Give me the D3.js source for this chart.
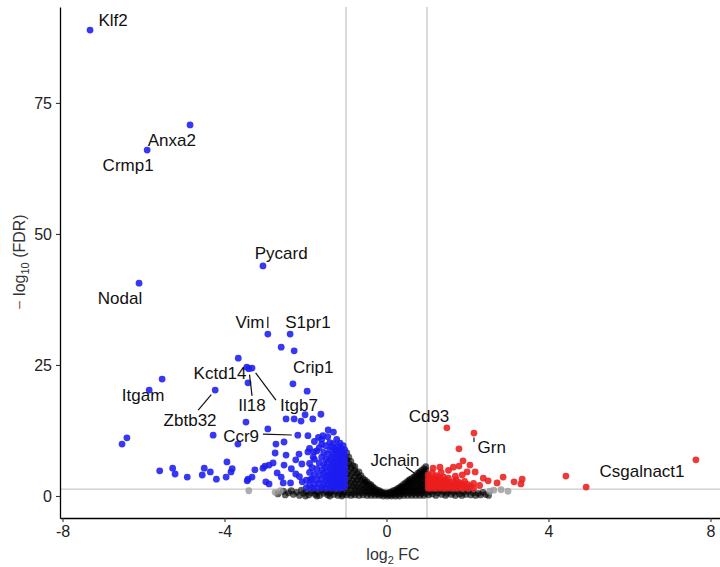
<!DOCTYPE html>
<html>
<head>
<meta charset="utf-8">
<script src="https://cdn.jsdelivr.net/npm/d3@7"></script>
<style>
  body { margin: 0; background: #fff; }
  svg { display: block; font-family: "Liberation Sans", Arial, sans-serif; }
</style>
</head>
<body>
<svg id="volcano" width="720" height="567"></svg>
<script>
// tick values
const xTicks = [-8, -4, 0, 4, 8];
const yTicks = [0, 25, 50, 75];

// thresholds
const fcCut = 1;
const fdrCut = 1.3;

// not significant points, by column: [log2FC, [-log10 FDR ...]]
const nsCols = [
  [-2.68, [0.4]], [-2.55, [0.9]], [-2.5, [0.2]], [-2.42, [0.6]], [-2.35, [1.0]],
  [-2.3, [0.3]], [-2.22, [0.7]], [-2.15, [0.1]], [-2.1, [1.1]], [-2.05, [0.5]],
  [-2.0, [0.0]], [-1.98, [0.8]], [-1.92, [0.2]], [-1.86, [0.6]], [-1.8, [1.0]],
  [-1.76, [0.3]], [-1.72, [0.0]], [-1.7, [0.7]], [-1.65, [0.1]], [-1.6, [1.1]],
  [-1.55, [0.5]], [-1.5, [0.8]], [-1.45, [0.2]], [-1.4, [0.0, 0.6]], [-1.35, [1.0]],
  [-1.3, [0.3]], [-1.26, [0.8]], [-1.2, [0.1]], [-1.16, [0.5]], [-1.12, [1.1]],
  [-1.1, [0.0]], [-1.08, [0.3]], [-1.04, [0.7]],
  [-0.98, [0.2, 1.5, 2.8, 4.2, 5.6, 7.0, 8.2]],
  [-0.93, [0.6, 2.0, 3.4, 4.8, 6.2, 7.4]],
  [-0.88, [0.1, 1.2, 2.5, 3.9, 5.3, 6.6]],
  [-0.83, [0.5, 1.8, 3.0, 4.4, 5.8]],
  [-0.78, [0.2, 1.3, 2.4, 3.6, 4.9, 5.6]],
  [-0.73, [0.7, 1.8, 3.0, 4.3]],
  [-0.68, [0.1, 1.2, 2.4, 3.6, 4.6]],
  [-0.63, [0.6, 1.7, 2.9, 3.9]],
  [-0.58, [0.2, 1.2, 2.2, 3.3]],
  [-0.53, [0.7, 1.6, 2.6, 3.0]],
  [-0.48, [0.1, 1.0, 2.0, 2.7]],
  [-0.43, [0.5, 1.4, 2.3]],
  [-0.38, [0.1, 0.9, 1.8, 2.1]],
  [-0.33, [0.5, 1.3, 1.7]],
  [-0.28, [0.1, 0.8, 1.4]],
  [-0.23, [0.4, 1.1]],
  [-0.18, [0.1, 0.7, 1.0]],
  [-0.13, [0.3, 0.8]],
  [-0.08, [0.0, 0.6]],
  [-0.03, [0.3, 0.6]],
  [0.02, [0.0, 0.5]],
  [0.07, [0.2, 0.7]],
  [0.12, [0.0, 0.5, 0.8]],
  [0.17, [0.3, 1.0]],
  [0.22, [0.0, 0.6, 1.1]],
  [0.27, [0.3, 0.9, 1.4]],
  [0.32, [0.0, 0.7, 1.3, 1.6]],
  [0.37, [0.4, 1.0, 1.7, 1.9]],
  [0.42, [0.1, 0.8, 1.5, 2.2]],
  [0.47, [0.5, 1.2, 1.9, 2.5]],
  [0.52, [0.1, 0.9, 1.6, 2.3, 2.8]],
  [0.57, [0.5, 1.3, 2.1, 2.9, 3.1]],
  [0.62, [0.1, 0.9, 1.7, 2.5, 3.3]],
  [0.67, [0.5, 1.3, 2.1, 2.9, 3.6]],
  [0.72, [0.1, 0.9, 1.7, 2.6, 3.4, 3.9]],
  [0.77, [0.5, 1.3, 2.2, 3.0, 3.8, 4.3]],
  [0.82, [0.1, 0.9, 1.8, 2.6, 3.5, 4.3, 4.6]],
  [0.83, [3.6]],
  [0.87, [0.5, 1.4, 2.2, 3.1, 4.0, 4.9]],
  [0.92, [0.1, 1.0, 1.9, 2.8, 3.7, 4.6, 5.2]],
  [0.97, [0.5, 1.4, 2.3, 3.2, 4.1, 5.0, 5.6]],
  [1.04, [0.2]], [1.08, [0.8]], [1.13, [0.4]], [1.18, [1.0]], [1.22, [0.1]],
  [1.27, [0.6]], [1.32, [1.1]], [1.36, [0.3]], [1.41, [0.8]], [1.46, [0.1]],
  [1.5, [0.5]], [1.55, [1.0]], [1.6, [0.3]], [1.65, [0.7]], [1.7, [0.1]],
  [1.75, [0.9]], [1.8, [0.4]], [1.86, [0.1]], [1.9, [0.7]], [1.96, [0.3]],
  [2.02, [0.9]], [2.08, [0.2]], [2.14, [0.6]], [2.2, [0.1]], [2.26, [0.5]],
  [2.32, [0.2]], [2.38, [0.7]], [2.45, [0.3]], [2.52, [0.1]]
];

// large fold change but not significant
const fcOnly = [
  [-3.4, 1.0], [-2.75, 0.7], [-2.62, 1.0], [2.55, 0.9], [2.65, 1.1], [2.83, 1.2], [3.0, 0.9]
];

// down regulated, scattered ones
const downPts = [
  [-7.32, 88.9], [-4.85, 70.8], [-5.91, 66.0], [-3.05, 43.9], [-6.11, 40.6],
  [-2.93, 30.9], [-2.38, 30.9], [-2.6, 28.4], [-2.28, 27.7], [-3.66, 26.3],
  [-3.45, 24.6], [-3.40, 24.3], [-3.32, 24.4], [-3.42, 21.6], [-2.31, 21.4],
  [-5.54, 22.3], [-5.86, 20.2], [-4.23, 20.2], [-1.96, 20.0], [-3.47, 14.1],
  [-2.93, 12.8], [-4.28, 11.6], [-2.19, 11.6], [-3.67, 9.9], [-6.53, 9.9],
  [-6.41, 11.1], [-2.28, 14.7], [-2.48, 14.7], [-2.11, 14.3], [-2.01, 15.5],
  [-1.82, 14.7], [-1.62, 15.6], [-1.94, 11.5], [-1.44, 12.6], [-1.57, 11.5],
  [-1.68, 11.2], [-2.73, 9.9], [-2.53, 10.3], [-2.75, 8.2], [-2.48, 7.8],
  [-2.16, 8.0], [-1.94, 8.4], [-1.79, 8.4], [-1.6, 9.9], [-1.81, 7.4],
  [-2.24, 6.9], [-2.09, 6.1], [-2.53, 5.9], [-2.24, 4.2], [-2.6, 3.6],
  [-2.98, 2.7], [-2.9, 2.3], [-2.55, 2.5], [-2.37, 2.5], [-2.08, 2.7],
  [-1.88, 3.1], [-2.7, 4.4], [-2.35, 5.2], [-2.15, 3.7],
  [-5.6, 4.8], [-5.28, 5.3], [-5.22, 4.2], [-4.92, 3.6], [-4.55, 4.0],
  [-4.5, 5.3], [-4.35, 4.6], [-4.2, 3.2], [-3.96, 3.6], [-3.94, 6.5],
  [-3.84, 4.6], [-3.81, 5.2], [-3.44, 2.9], [-3.42, 3.2], [-3.32, 3.6],
  [-3.25, 5.0], [-3.05, 5.3], [-3.0, 5.7], [-2.9, 5.9], [-2.8, 6.3]
];

// down regulated, dense block: [log2FC, [-log10 FDR ...]]
const downCols = [
  [-1.98, [1.6, 3.0]],
  [-1.9, [2.0, 4.5, 6.2, 9.1]],
  [-1.84, [1.5, 3.3, 5.4]],
  [-1.78, [2.2, 4.1, 7.0, 10.4]],
  [-1.72, [1.5, 3.0, 5.2, 8.6]],
  [-1.66, [2.4, 4.0, 6.3, 9.2]],
  [-1.6, [1.6, 3.2, 5.0, 7.4, 10.8]],
  [-1.55, [2.1, 4.3, 6.0, 8.3]],
  [-1.5, [1.5, 2.9, 3.8, 5.5, 7.0, 9.6]],
  [-1.45, [2.2, 3.4, 4.7, 6.4, 8.0, 11.3]],
  [-1.4, [1.6, 2.7, 4.0, 5.3, 6.9, 8.8, 10.2]],
  [-1.35, [1.9, 3.1, 4.4, 5.8, 7.4, 9.4]],
  [-1.31, [1.5, 2.5, 3.6, 4.9, 6.2, 7.9, 10.0, 12.2]],
  [-1.27, [2.0, 3.0, 4.2, 5.4, 6.7, 8.5, 9.0]],
  [-1.23, [1.6, 2.6, 3.7, 4.8, 6.0, 7.2, 8.9, 10.8]],
  [-1.19, [2.1, 3.2, 4.3, 5.5, 6.6, 7.8, 9.5]],
  [-1.15, [1.5, 2.6, 3.8, 4.9, 6.1, 7.3, 8.4, 10.1]],
  [-1.11, [2.0, 3.1, 4.3, 5.4, 6.6, 7.8, 9.0]],
  [-1.07, [1.6, 2.6, 3.7, 4.8, 6.0, 7.2, 8.3, 9.6]],
  [-1.03, [2.1, 3.2, 4.3, 5.4, 6.5, 7.7, 8.8]]
];

// up regulated, scattered ones
const upPts = [
  [1.49, 13.0], [2.16, 12.0], [7.64, 6.9], [1.79, 9.0], [1.89, 6.7],
  [2.06, 5.9], [1.65, 5.5], [1.79, 5.7], [2.19, 4.6], [1.99, 4.6],
  [1.87, 4.0], [2.39, 3.4], [2.51, 2.9], [2.88, 3.6], [2.73, 2.5],
  [3.15, 2.7], [3.35, 3.2], [3.32, 2.3], [4.43, 3.8], [4.93, 1.7],
  [1.15, 5.3], [1.32, 5.5], [1.35, 4.5], [1.53, 4.9], [1.7, 3.8], [2.3, 2.0]
];

// up regulated, dense block
const upCols = [
  [1.03, [1.5, 2.3, 3.1, 4.0]],
  [1.08, [1.9, 2.7, 3.5]],
  [1.13, [1.5, 2.3, 3.1, 4.4]],
  [1.18, [1.8, 2.6, 3.4]],
  [1.23, [1.5, 2.2, 3.0, 3.9]],
  [1.29, [1.9, 2.7, 3.5]],
  [1.35, [1.5, 2.3, 3.1]],
  [1.41, [1.8, 2.6, 3.6]],
  [1.47, [1.5, 2.2, 3.0]],
  [1.53, [1.8, 2.6, 3.4]],
  [1.59, [1.5, 2.2]],
  [1.65, [1.8, 2.7]],
  [1.72, [1.5, 2.3, 3.1]],
  [1.79, [1.9, 2.6]],
  [1.86, [1.5, 2.3]],
  [1.93, [1.8, 2.8]],
  [2.0, [1.5, 2.2]],
  [2.08, [1.9]],
  [2.15, [1.5, 2.4]]
];

// labelled genes and their points
const labelGenes = ["Klf2", "Anxa2", "Crmp1", "Pycard", "Nodal", "Vim", "S1pr1", "Crip1",
  "Kctd14", "Il18", "Itgb7", "Itgam", "Zbtb32", "Ccr9", "Cd93", "Grn", "Jchain", "Csgalnact1"];
const labelFC = [-7.32, -4.85, -5.91, -3.05, -6.11, -2.93, -2.38, -2.31,
  -3.45, -3.40, -3.32, -5.86, -4.23, -2.19, 1.49, 2.16, 0.83, 7.64];
const labelFDR = [88.9, 70.8, 66.0, 43.9, 40.6, 30.9, 30.9, 21.4,
  24.6, 24.3, 24.4, 20.2, 20.2, 11.6, 13.0, 12.0, 3.6, 6.9];

// where the repelled text sits (data units) and where its segment ends (null = no segment)
const labelTextAt = [[-6.75, 90.8], [-5.30, 67.9], [-6.38, 63.2], [-2.60, 46.4], [-6.58, 37.8],
  [-3.37, 33.2], [-1.94, 33.2], [-1.81, 24.6], [-4.11, 23.5], [-3.32, 17.4], [-2.16, 17.4],
  [-6.01, 19.3], [-4.85, 14.5], [-3.59, 11.5], [1.05, 15.3], [2.60, 9.4], [0.21, 6.9], [6.31, 4.8]];
const labelSegEnd = [null, null, null, null, null, [-2.93, 34.2], null, null, null,
  [-3.32, 19.1], [-2.73, 18.3], null, [-4.65, 16.4], [-3.05, 11.8], null, [2.16, 10.3], [0.48, 5.5], null];

function flattenCols(cols) {
  const out = [];
  cols.forEach(c => c[1].forEach(v => out.push([c[0], v])));
  return out;
}

function drawVolcano() {
    const svg = d3.select("#volcano");

    const x = d3.scaleLinear().domain([-8.062, 8.235]).range([60, 720]);
    const y = d3.scaleLinear().domain([-4.2, 93.3]).range([518, 7]);

    // reference lines
    const refs = svg.append("g").attr("stroke", "#c9c9c9").attr("stroke-width", 1.4);
    [-fcCut, fcCut].forEach(v => {
        refs.append("line")
            .attr("x1", x(v)).attr("x2", x(v))
            .attr("y1", y.range()[1]).attr("y2", y.range()[0]);
    });
    refs.append("line")
        .attr("x1", x.range()[0]).attr("x2", x.range()[1])
        .attr("y1", y(fdrCut)).attr("y2", y(fdrCut));

    const r = 3.4;
    function dots(data, fill, opacity) {
        svg.append("g").selectAll("circle")
            .data(data)
            .join("circle")
            .attr("cx", d => x(d[0]))
            .attr("cy", d => y(d[1]))
            .attr("r", r)
            .attr("fill", fill)
            .attr("fill-opacity", opacity);
    }

    dots(flattenCols(nsCols), "#000000", 0.62);
    dots(fcOnly, "#9a9a9a", 0.8);
    dots(downPts.concat(flattenCols(downCols)), "#1c1cf0", 0.88);
    dots(upPts.concat(flattenCols(upCols)), "#ec1e1e", 0.88);

    // label segments, trimmed a bit away from the point like ggrepel does
    const gap = 6;
    svg.append("g").attr("stroke", "#111").attr("stroke-width", 1.2)
        .selectAll("line")
        .data(labelGenes.map((g, i) => i).filter(i => labelSegEnd[i]))
        .join("line")
        .each(function(i) {
            const px = x(labelFC[i]), py = y(labelFDR[i]);
            const ex = x(labelSegEnd[i][0]), ey = y(labelSegEnd[i][1]);
            const len = Math.hypot(ex - px, ey - py);
            const t = Math.min(gap / len, 0.5);
            d3.select(this)
                .attr("x1", px + (ex - px) * t).attr("y1", py + (ey - py) * t)
                .attr("x2", ex).attr("y2", ey);
        });

    // labels
    svg.append("g").selectAll("text")
        .data(labelGenes)
        .join("text")
        .attr("x", (d, i) => x(labelTextAt[i][0]))
        .attr("y", (d, i) => y(labelTextAt[i][1]))
        .attr("dy", "0.36em")
        .attr("text-anchor", "middle")
        .style("font-size", "17px")
        .style("fill", "#111")
        .text(d => d);

    // axes
    const xAxis = svg.append("g")
        .attr("transform", `translate(0,${y.range()[0]})`)
        .call(d3.axisBottom(x).tickValues(xTicks).tickSize(4).tickSizeOuter(0).tickPadding(4)
            .tickFormat(d => d < 0 ? "-" + Math.abs(d) : d));
    const yAxis = svg.append("g")
        .attr("transform", `translate(${x.range()[0]},0)`)
        .call(d3.axisLeft(y).tickValues(yTicks).tickSize(4).tickSizeOuter(0).tickPadding(4));

    [xAxis, yAxis].forEach(a => {
        a.select(".domain").attr("stroke", "#000").attr("stroke-width", 1.3);
        a.selectAll(".tick line").attr("stroke", "#333").attr("stroke-width", 1.1);
        a.selectAll(".tick text").style("font-size", "16px").style("fill", "#222")
            .style("font-family", "'Liberation Sans', Arial, sans-serif");
    });

    // x title
    const xt = svg.append("text")
        .attr("x", 393).attr("y", 560)
        .attr("text-anchor", "middle")
        .style("font-size", "16px").style("fill", "#333");
    xt.append("tspan").text("log");
    xt.append("tspan").attr("dy", 4).style("font-size", "11px").text("2");
    xt.append("tspan").attr("dy", -4).text(" FC");

    // y title
    const yt = svg.append("text")
        .attr("transform", "translate(25,262) rotate(-90)")
        .attr("text-anchor", "middle")
        .style("font-size", "16px").style("fill", "#333");
    yt.append("tspan").style("fill", "#8a5a3c").text("\u2212 ");
    yt.append("tspan").text("log");
    yt.append("tspan").attr("dy", 4).style("font-size", "11px").text("10");
    yt.append("tspan").attr("dy", -4).text(" (FDR)");
}

document.addEventListener('DOMContentLoaded', () => {
    drawVolcano();
});
</script>
</body>
</html>
